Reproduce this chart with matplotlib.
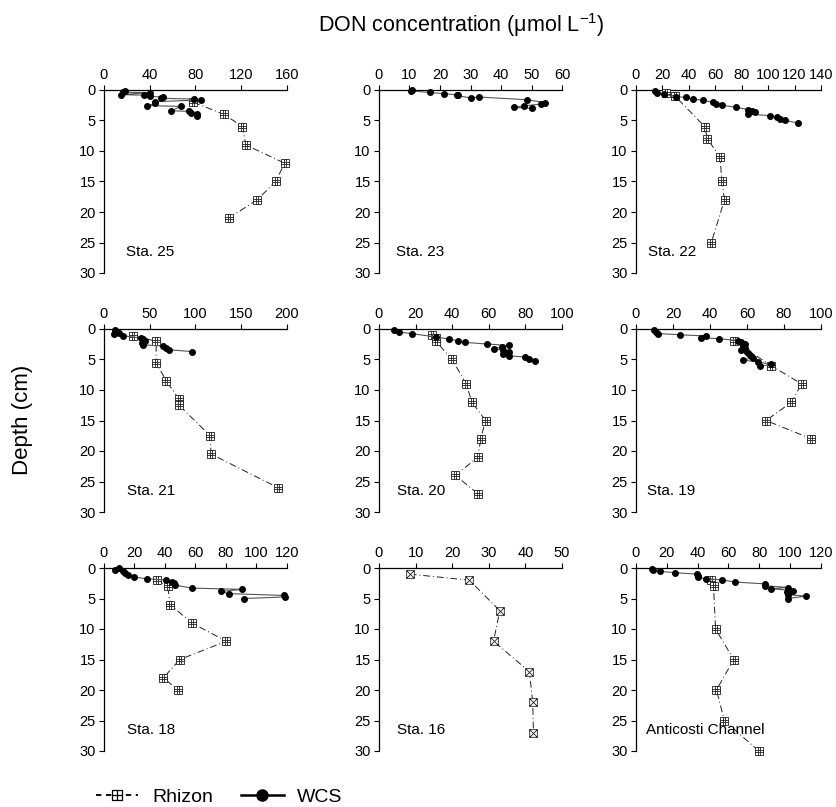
import matplotlib
matplotlib.use("Agg")
import matplotlib.pyplot as plt
from matplotlib.path import Path
from matplotlib.lines import Line2D
import matplotlib.transforms as mtransforms

plt.rcParams['font.family'] = ['Liberation Sans', 'DejaVu Sans']
plt.rcParams['mathtext.fontset'] = 'custom'
plt.rcParams['mathtext.rm'] = 'Liberation Sans'
plt.rcParams['mathtext.it'] = 'Liberation Sans'

# ---------------- data ----------------
stations = ["Sta. 25", "Sta. 23", "Sta. 22",
            "Sta. 21", "Sta. 20", "Sta. 19",
            "Sta. 18", "Sta. 16", "Anticosti Channel"]
x_max = [160, 60, 140, 200, 100, 100, 120, 50, 120]
x_step = [40, 10, 20, 50, 20, 20, 20, 10, 20]

# Rhizon profiles (depth cm, DON umol/L)
rh25_depth = [2, 4, 6, 9, 12, 15, 18, 21]
rh25_conc = [78, 105, 121, 124, 158, 150, 134, 109]
rh23_depth = []
rh23_conc = []
rh22_depth = [0.55, 1.0, 6, 8, 11, 15, 18, 25]
rh22_conc = [23, 29.5, 52, 54, 63.6, 65, 67, 57]
rh21_depth = [1.1, 2, 5.5, 8.5, 11.5, 12.5, 17.5, 20.5, 26]
rh21_conc = [32, 57, 57, 68, 82, 82, 116, 117, 190]
rh20_depth = [1, 1.5, 2, 5, 9, 12, 15, 18, 21, 24, 27]
rh20_conc = [29, 31, 31, 40, 47.6, 50.8, 58.2, 55.6, 54, 41.8, 54]
rh19_depth = [2, 6, 9, 12, 15, 18]
rh19_conc = [53, 73, 89.5, 84, 70.3, 94.7]
rh18_depth = [2, 3, 6, 9, 12, 15, 18, 20]
rh18_conc = [34.6, 41.8, 43.4, 57.5, 80.2, 49.7, 39, 48.4]
rh16_depth = [1, 2, 7, 12, 17, 22, 27]
rh16_conc = [8.4, 24.7, 33, 31.3, 41.1, 42, 42.2]
rhac_depth = [2, 3, 10, 15, 20, 25, 30]
rhac_conc = [48.4, 50.3, 51.6, 63.4, 52.2, 57.3, 79.6]

# WCS profiles (depth cm, DON umol/L)
wc25_depth = [0.16, 0.38, 0.42, 0.76, 0.85, 1.0, 1.2, 1.35, 1.5, 1.65, 1.9, 2.2,
              2.55, 2.7, 3.4, 3.5, 3.8, 4.0, 4.3]
wc25_conc = [18.5, 17, 40, 15.3, 35, 40, 52, 50, 79, 85, 45, 45,
             38, 67, 59, 74, 76, 81, 81]
wc23_depth = [0.05, 0.15, 0.4, 0.6, 0.8, 0.9, 1.3, 1.15, 1.6, 2.05, 2.3, 2.6, 2.85, 3.0]
wc23_conc = [10.7, 10.5, 16.6, 21.2, 25.9, 25.5, 30, 32.7, 48.6, 54.3, 53.2, 47.5, 44.2, 50.3]
wc22_depth = [0.2, 0.45, 0.7, 1.1, 1.2, 1.5, 1.7, 2.0, 2.25, 2.5, 2.85, 3.2, 3.4, 3.6,
              3.95, 4.2, 4.5, 4.75, 5.0, 5.4]
wc22_conc = [14.4, 15.6, 21, 30, 38, 43.4, 51, 58, 60.6, 65.4, 76, 85, 88, 90.4,
             85, 101.5, 107, 108.6, 113, 122.5]
wc21_depth = [0.15, 0.45, 0.7, 0.8, 1.1, 1.5, 1.7, 1.9, 2.25, 2.6, 2.8, 3.1, 3.4, 3.7]
wc21_conc = [12, 14, 16, 11, 21, 40, 43, 45, 42, 43, 65, 68, 71, 96]
wc20_depth = [0.2, 0.5, 0.77, 1.3, 1.64, 1.9, 2.2, 2.46, 2.7, 2.9, 3.2, 3.5, 3.7,
              4.05, 4.4, 4.6, 4.9, 5.2]
wc20_conc = [8, 11, 18, 31, 38, 43, 47, 59, 71, 67, 63, 68, 71, 68, 71, 80, 82, 85]
wc19_depth = [0.1, 0.45, 0.75, 0.95, 1.15, 1.4, 1.6, 1.9, 2.2, 2.5, 2.8, 3.1, 3.5,
              3.8, 4.1, 4.4, 4.7, 5.1, 5.4, 5.8, 6.1]
wc19_conc = [10, 11, 12, 24, 38, 35, 45, 55, 57, 59, 58, 59, 57, 60, 61, 62, 63,
             58, 66, 73, 67]
wc18_depth = [0.0, 0.33, 0.55, 0.87, 1.2, 1.5, 1.75, 1.96, 2.3, 2.5, 2.8, 3.3, 3.5,
              3.85, 4.2, 4.5, 4.75, 5.0]
wc18_conc = [10, 7.5, 12.6, 14, 15.7, 19.5, 28, 40.5, 44.7, 45.6, 46.5, 57.9, 90.6,
             76.7, 82, 118, 118.5, 92]
wc16_depth = []
wc16_conc = []
wcac_depth = [0.1, 0.33, 0.55, 0.77, 1.0, 1.25, 1.5, 1.75, 1.96, 2.3, 2.6, 2.9, 3.2,
              3.4, 3.7, 4.0, 4.4, 4.6, 5.0]
wcac_conc = [10.2, 10.8, 15.6, 25.2, 39.5, 40.4, 40.4, 45.2, 56, 64.3, 83.4, 83.8,
             98.7, 87.6, 102, 97.8, 98.7, 110.5, 98.4]

rh_depths = [rh25_depth, rh23_depth, rh22_depth, rh21_depth, rh20_depth, rh19_depth,
             rh18_depth, rh16_depth, rhac_depth]
rh_concs = [rh25_conc, rh23_conc, rh22_conc, rh21_conc, rh20_conc, rh19_conc,
            rh18_conc, rh16_conc, rhac_conc]
wc_depths = [wc25_depth, wc23_depth, wc22_depth, wc21_depth, wc20_depth, wc19_depth,
             wc18_depth, wc16_depth, wcac_depth]
wc_concs = [wc25_conc, wc23_conc, wc22_conc, wc21_conc, wc20_conc, wc19_conc,
            wc18_conc, wc16_conc, wcac_conc]

# ---------------- markers ----------------
M, L, C = Path.MOVETO, Path.LINETO, Path.CLOSEPOLY
sq = [(-1, -1), (1, -1), (1, 1), (-1, 1), (-1, -1)]
sq_codes = [M, L, L, L, C]
legend_marker = Path(sq + [(0, -1), (0, 1), (-1, 0), (1, 0)],
                     sq_codes + [M, L, M, L])
t = 1.0 / 3.0
grid_marker = Path(sq + [(-t, -1), (-t, 1), (t, -1), (t, 1),
                         (-1, -t), (1, -t), (-1, t), (1, t)],
                   sq_codes + [M, L, M, L, M, L, M, L])
x_marker = Path(sq + [(-1, -1), (1, 1), (-1, 1), (1, -1)],
                sq_codes + [M, L, M, L])

# ---------------- layout ----------------
W, H = 837, 807
fig = plt.figure(figsize=(W / 100, H / 100), dpi=100)
col_px = [(104, 287), (379, 562), (636, 821)]
row_px = [(90, 273), (329, 512), (568, 751)]
label_fx = [0.12, 0.095, 0.065, 0.125, 0.098, 0.058, 0.123, 0.098, 0.053]

rh_style = dict(color='#202020', lw=0.7, linestyle=(0, (7, 3, 1, 3)),
                markerfacecolor='white', markeredgecolor='#202020',
                markeredgewidth=0.6, markersize=5.5)
wc_style = dict(color='#555555', lw=0.8, linestyle='-', marker='o',
                markerfacecolor='black', markeredgecolor='black', markersize=4.0)

for i, name in enumerate(stations):
    r, c = divmod(i, 3)
    x0, x1 = col_px[c]
    y0, y1 = row_px[r]
    ax = fig.add_axes([x0 / W, 1 - y1 / H, (x1 - x0) / W, (y1 - y0) / H])
    mk = x_marker if name == "Sta. 16" else grid_marker
    if rh_depths[i]:
        ax.plot(rh_concs[i], rh_depths[i], marker=mk, clip_on=False, zorder=3, **rh_style)
    if wc_depths[i]:
        ax.plot(wc_concs[i], wc_depths[i], clip_on=False, zorder=4, **wc_style)
    ax.set_xlim(0, x_max[i])
    ax.set_ylim(30, 0)
    ax.set_xticks(range(0, x_max[i] + 1, x_step[i]))
    ax.set_yticks(range(0, 31, 5))
    ax.xaxis.tick_top()
    ax.spines['right'].set_visible(False)
    ax.spines['bottom'].set_visible(False)
    for s in ('left', 'top'):
        ax.spines[s].set_linewidth(0.9)
        ax.spines[s].set_color('black')
    ax.tick_params(direction='out', length=3.5, width=0.8, labelsize=10.5,
                   colors='black', pad=2.5)
    ax.patch.set_alpha(0)
    trans = mtransforms.blended_transform_factory(ax.transAxes, ax.transData)
    ax.text(label_fx[i], 26.5, name, transform=trans, fontsize=11,
            va='center', ha='left')

fig.text(461 / W, 1 - 25 / H, 'DON concentration (μmol L$^{-1}$)',
         ha='center', va='center', fontsize=15.5)
fig.text(23 / W, 1 - 420 / H, 'Depth (cm)', rotation=90, ha='center',
         va='center', fontsize=16)

h_rh = Line2D([], [], color='black', lw=1.3, linestyle=(0, (3, 2.5)), marker=legend_marker,
              markerfacecolor='white', markeredgecolor='black', markersize=7,
              markeredgewidth=0.9)
h_wc = Line2D([], [], color='black', lw=1.8, linestyle='-', marker='o',
              markerfacecolor='black', markersize=8)
fig.legend([h_rh, h_wc], ['Rhizon', 'WCS'], loc='center left',
           bbox_to_anchor=(78 / W, 1 - 797 / H), ncol=2, frameon=False,
           fontsize=14, handlelength=2.2, columnspacing=1.45, handletextpad=0.7)

fig.savefig('out.png', dpi=100)
